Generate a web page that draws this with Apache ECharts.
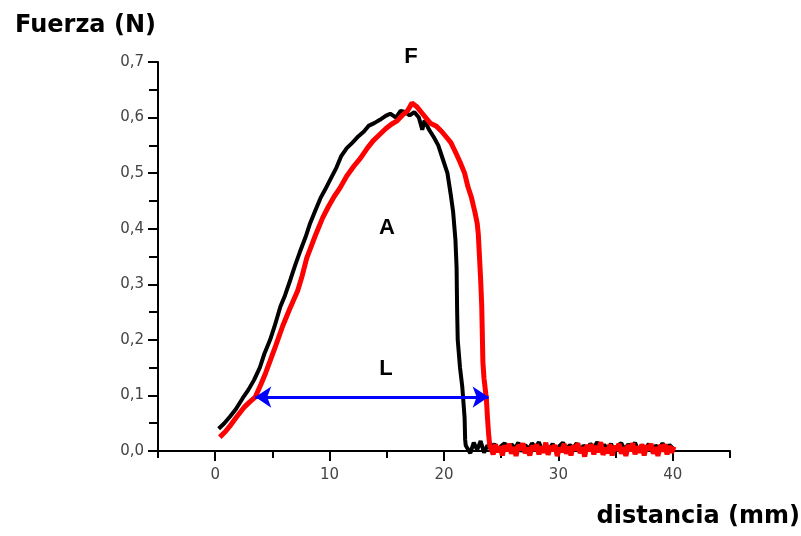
<!DOCTYPE html>
<html>
<head>
<meta charset="utf-8">
<script src="https://cdn.jsdelivr.net/npm/echarts@6/dist/echarts.min.js"></script>
<style>
  html, body { margin: 0; padding: 0; background: #fff; }
  #main { width: 801px; height: 536px; }
</style>
</head>
<body>
<div id="main"></div>
<script>
// curva negra (x en mm, y en N)
const blackCurve = [
  [0.3, 0.04], [0.8, 0.05], [1.3, 0.062], [1.8, 0.075], [2.4, 0.095], [2.9, 0.11],
  [3.4, 0.128], [3.9, 0.15], [4.3, 0.175], [4.8, 0.2], [5.2, 0.225], [5.7, 0.26],
  [6.1, 0.28], [6.6, 0.31], [7.0, 0.335], [7.4, 0.358], [7.9, 0.385], [8.3, 0.41],
  [8.7, 0.43], [9.2, 0.455], [9.6, 0.47], [10.1, 0.49], [10.6, 0.51], [11.0, 0.53],
  [11.5, 0.545], [12.0, 0.555], [12.5, 0.566], [13.0, 0.575], [13.4, 0.585], [13.9, 0.59],
  [14.4, 0.596], [14.9, 0.603], [15.3, 0.607], [15.8, 0.6], [16.2, 0.612], [16.6, 0.61],
  [17.0, 0.604], [17.4, 0.61], [17.8, 0.6], [18.1, 0.578], [18.3, 0.595], [18.7, 0.578],
  [19.1, 0.565], [19.5, 0.55], [19.9, 0.525], [20.3, 0.5], [20.6, 0.46], [20.8, 0.43],
  [21.0, 0.38], [21.1, 0.33], [21.15, 0.25], [21.2, 0.2], [21.4, 0.15], [21.6, 0.115],
  [21.8, 0.06], [21.85, 0.02], [21.9, 0.01]
];
const blackTail = [
  [22.0, 0.012], [22.3, -0.004], [22.6, 0.015], [22.9, 0.002], [23.2, 0.018], [23.5, -0.003],
  [23.8, 0.01], [24.1, 0.004], [24.4, 0.013], [24.7, -0.002], [25.0, 0.009], [25.3, 0.014],
  [25.6, 0.001], [25.9, 0.012], [26.2, 0.005], [26.5, 0.015], [26.8, -0.001], [27.1, 0.011],
  [27.4, 0.003], [27.7, 0.014], [28.0, 0.006], [28.3, 0.016], [28.6, 0.0], [28.9, 0.01],
  [29.2, 0.004], [29.5, 0.013], [29.8, -0.002], [30.1, 0.009], [30.4, 0.015], [30.7, 0.002],
  [31.0, 0.011], [31.3, 0.005], [31.6, 0.014], [31.9, -0.001], [32.2, 0.01], [32.5, 0.003],
  [32.8, 0.013], [33.1, 0.006], [33.4, 0.016], [33.7, 0.001], [34.0, 0.011], [34.3, 0.004],
  [34.6, 0.013], [34.9, -0.002], [35.2, 0.01], [35.5, 0.014], [35.8, 0.002], [36.1, 0.012],
  [36.4, 0.005], [36.7, 0.015], [37.0, 0.0], [37.3, 0.011], [37.6, 0.003], [37.9, 0.013],
  [38.2, -0.001], [38.5, 0.01], [38.8, 0.004], [39.1, 0.014], [39.4, 0.002], [39.7, 0.011],
  [40.0, 0.005]
];

// curva roja
const redCurve = [
  [0.4, 0.025], [0.9, 0.035], [1.4, 0.048], [1.9, 0.062], [2.5, 0.078], [3.0, 0.088],
  [3.5, 0.097], [4.0, 0.12], [4.4, 0.14], [4.8, 0.162], [5.3, 0.19], [5.9, 0.225],
  [6.5, 0.255], [7.2, 0.288], [7.6, 0.315], [8.0, 0.347], [8.7, 0.385], [9.4, 0.42],
  [9.9, 0.44], [10.4, 0.458], [10.9, 0.473], [11.5, 0.495], [12.1, 0.512], [12.7, 0.527],
  [13.3, 0.545], [13.8, 0.558], [14.4, 0.57], [14.9, 0.58], [15.4, 0.588], [15.9, 0.594],
  [16.4, 0.605], [16.8, 0.612], [17.2, 0.626], [17.6, 0.62], [18.0, 0.61], [18.4, 0.6],
  [18.8, 0.59], [19.3, 0.585], [19.8, 0.575], [20.2, 0.565], [20.6, 0.555], [21.0, 0.538],
  [21.4, 0.52], [21.8, 0.5], [22.1, 0.475], [22.4, 0.456], [22.7, 0.43], [22.9, 0.41],
  [23.0, 0.39], [23.1, 0.35], [23.2, 0.31], [23.3, 0.26], [23.35, 0.21], [23.4, 0.16],
  [23.5, 0.13], [23.7, 0.095], [23.8, 0.06], [23.9, 0.03], [24.0, 0.01]
];
const redTail = [
  [24.1, 0.005], [24.3, -0.006], [24.5, 0.012], [24.7, -0.002], [24.9, 0.008], [25.1, -0.008],
  [25.3, 0.01], [25.5, 0.0], [25.7, 0.013], [25.9, -0.005], [26.1, 0.007], [26.3, -0.009],
  [26.5, 0.011], [26.7, 0.002], [26.9, 0.014], [27.1, -0.004], [27.3, 0.006], [27.5, -0.008],
  [27.7, 0.01], [27.9, 0.001], [28.1, 0.012], [28.3, -0.006], [28.5, 0.008], [28.7, -0.003],
  [28.9, 0.015], [29.1, -0.007], [29.3, 0.009], [29.5, 0.0], [29.7, 0.011], [29.9, -0.009],
  [30.1, 0.006], [30.3, -0.002], [30.5, 0.013], [30.7, -0.005], [30.9, 0.008], [31.1, -0.008],
  [31.3, 0.01], [31.5, 0.002], [31.7, 0.014], [31.9, -0.004], [32.1, 0.007], [32.3, -0.01],
  [32.5, 0.011], [32.7, 0.0], [32.9, 0.012], [33.1, -0.006], [33.3, 0.009], [33.5, -0.002],
  [33.7, 0.016], [33.9, -0.007], [34.1, 0.006], [34.3, -0.004], [34.5, 0.012], [34.7, -0.008],
  [34.9, 0.009], [35.1, 0.001], [35.3, 0.013], [35.5, -0.005], [35.7, 0.007], [35.9, -0.009],
  [36.1, 0.011], [36.3, 0.0], [36.5, 0.014], [36.7, -0.006], [36.9, 0.008], [37.1, -0.003],
  [37.3, 0.012], [37.5, -0.008], [37.7, 0.01], [37.9, 0.002], [38.1, 0.013], [38.3, -0.005],
  [38.5, 0.007], [38.7, -0.009], [38.9, 0.011], [39.1, -0.001], [39.3, 0.012], [39.5, -0.006],
  [39.7, 0.009], [39.9, -0.003], [40.1, 0.008]
];

// flecha azul L (extremos en x, a la altura y)
const arrowEnds = [3.5, 23.9];
const arrowY = 0.097;

const myChart = echarts.init(document.getElementById('main'));

const tickFont = { color: '#444', fontSize: 15, fontFamily: 'DejaVu Sans' };
const titleFont = 'bold 24px "DejaVu Sans"';
const letterFont = 'bold 22px "Liberation Sans"';

const option = {
  backgroundColor: '#fff',
  animation: false,
  grid: { left: 158, right: 71, top: 62, bottom: 85 },
  xAxis: [{
    type: 'value',
    min: -5,
    max: 45,
    splitNumber: 5,
    position: 'bottom',
    axisLine: { onZero: false, lineStyle: { color: '#000', width: 2 } },
    axisTick: { length: 10, lineStyle: { color: '#000', width: 2 } },
    splitLine: { show: false },
    axisLabel: Object.assign({
      margin: 17,
      showMinLabel: false,
      showMaxLabel: false,
      formatter: v => (v % 10 === 0 ? String(v) : '')
    }, tickFont)
  }, {
    // ticks intermedios (5, 15, 25, 35)
    type: 'value',
    min: -5,
    max: 45,
    interval: 10,
    position: 'bottom',
    axisLine: { show: false, onZero: false },
    axisTick: { length: 7, lineStyle: { color: '#000', width: 2 } },
    splitLine: { show: false },
    axisLabel: { show: false }
  }],
  yAxis: {
    type: 'value',
    min: 0,
    max: 0.7,
    interval: 0.1,
    axisLine: { show: true, onZero: false, lineStyle: { color: '#000', width: 2 } },
    axisTick: { show: true, length: 10, lineStyle: { color: '#000', width: 2 } },
    minorTick: { show: true, splitNumber: 2, length: 9, lineStyle: { color: '#000', width: 2 } },
    splitLine: { show: false },
    axisLabel: Object.assign({
      margin: 14,
      formatter: v => v.toFixed(1).replace('.', ',')
    }, tickFont)
  },
  series: [{
    name: 'negra',
    type: 'line',
    data: blackCurve.concat(blackTail),
    showSymbol: false,
    clip: false,
    lineStyle: { color: '#000', width: 4 },
    z: 2
  }, {
    name: 'roja',
    type: 'line',
    data: redCurve.concat(redTail),
    showSymbol: false,
    clip: false,
    lineStyle: { color: '#ff0000', width: 5 },
    z: 3
  }, {
    name: 'L',
    type: 'lines',
    coordinateSystem: 'cartesian2d',
    symbol: ['arrow', 'arrow'],
    symbolSize: 16,
    lineStyle: { color: '#0000ff', width: 3, opacity: 1 },
    data: [{ coords: [[arrowEnds[0], arrowY], [arrowEnds[1], arrowY]] }],
    z: 4
  }],
  graphic: [
    { type: 'text', left: 15, top: 14, style: { text: 'Fuerza (N)', font: titleFont, fill: '#000' } },
    { type: 'text', right: 1, top: 505, style: { text: 'distancia (mm)', font: titleFont, fill: '#000' } },
    { type: 'text', x: 411, y: 57, style: { text: 'F', font: letterFont, fill: '#000', align: 'center', verticalAlign: 'middle' } },
    { type: 'text', x: 387, y: 228, style: { text: 'A', font: letterFont, fill: '#000', align: 'center', verticalAlign: 'middle' } },
    { type: 'text', x: 386, y: 369, style: { text: 'L', font: letterFont, fill: '#000', align: 'center', verticalAlign: 'middle' } }
  ]
};

myChart.setOption(option);
window.addEventListener('resize', function () {
  myChart.resize();
});
</script>
</body>
</html>
